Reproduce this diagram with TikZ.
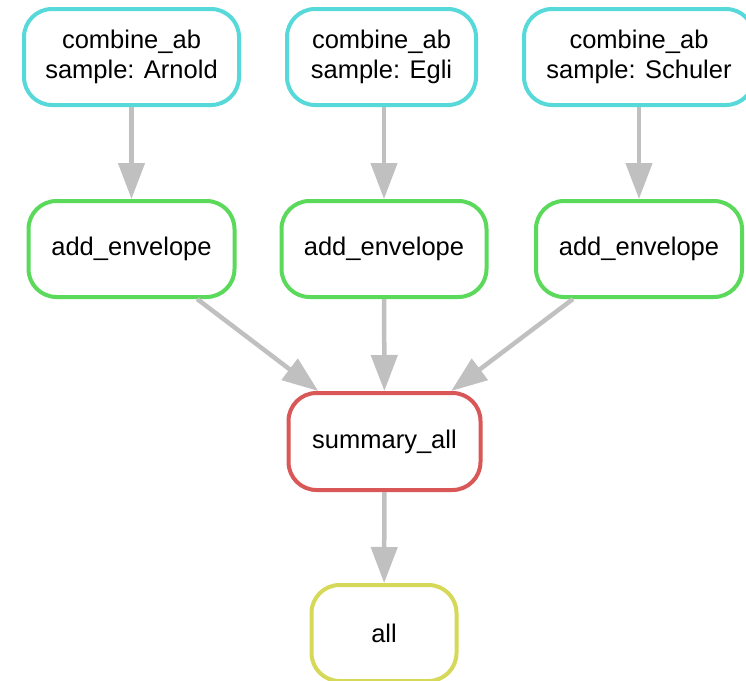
\documentclass[tikz,border=0pt]{standalone}
\usepackage{fontspec}
\setmainfont{Liberation Sans}
\usetikzlibrary{arrows.meta}
\definecolor{cyanc}{HTML}{57D9D9}
\definecolor{greenc}{HTML}{5AD95A}
\definecolor{redc}{HTML}{D95757}
\definecolor{yellowc}{HTML}{D6D957}
\definecolor{edgec}{HTML}{C0C0C0}
\tikzset{
  rule/.style={draw, line width=4pt, rounded corners=28pt, fill=white,
    minimum height=96pt, inner sep=0pt, align=center,
    font=\fontsize{25.5}{30}\selectfont},
  edge/.style={draw=edgec, line width=4.5pt,
    -{Triangle[length=36pt,width=26pt]}}
}
\begin{document}
\begin{tikzpicture}[x=1pt,y=-1pt]
\useasboundingbox (0,0) rectangle (746,680);
\node[rule, draw=cyanc, minimum width=215pt] (a1) at (131.5,57) {combine\_ab\\sample: Arnold};
\node[rule, draw=cyanc, minimum width=189pt] (a2) at (381.5,57) {combine\_ab\\sample: Egli};
\node[rule, draw=cyanc, minimum width=230pt] (a3) at (639,57) {combine\_ab\\sample: Schuler};
\node[rule, draw=greenc, minimum width=206pt] (b1) at (131.5,249) {add\_envelope};
\node[rule, draw=greenc, minimum width=205pt] (b2) at (384,249) {add\_envelope};
\node[rule, draw=greenc, minimum width=206pt] (b3) at (639,249) {add\_envelope};
\node[rule, draw=redc, minimum width=192pt, minimum height=97pt] (c) at (384.5,441.5) {summary\_all};
\node[rule, draw=yellowc, minimum width=145pt] (d) at (384,633) {all};
\draw[edge] (a1.south -| b1.north) -- (b1.north);
\draw[edge] (a2.south -| b2.north) -- (b2.north);
\draw[edge] (a3) -- (b3);
\draw[edge] (b1) -- (c);
\draw[edge] (b2) -- (c);
\draw[edge] (b3) -- (c);
\draw[edge] (c) -- (d);
\end{tikzpicture}
\end{document}
